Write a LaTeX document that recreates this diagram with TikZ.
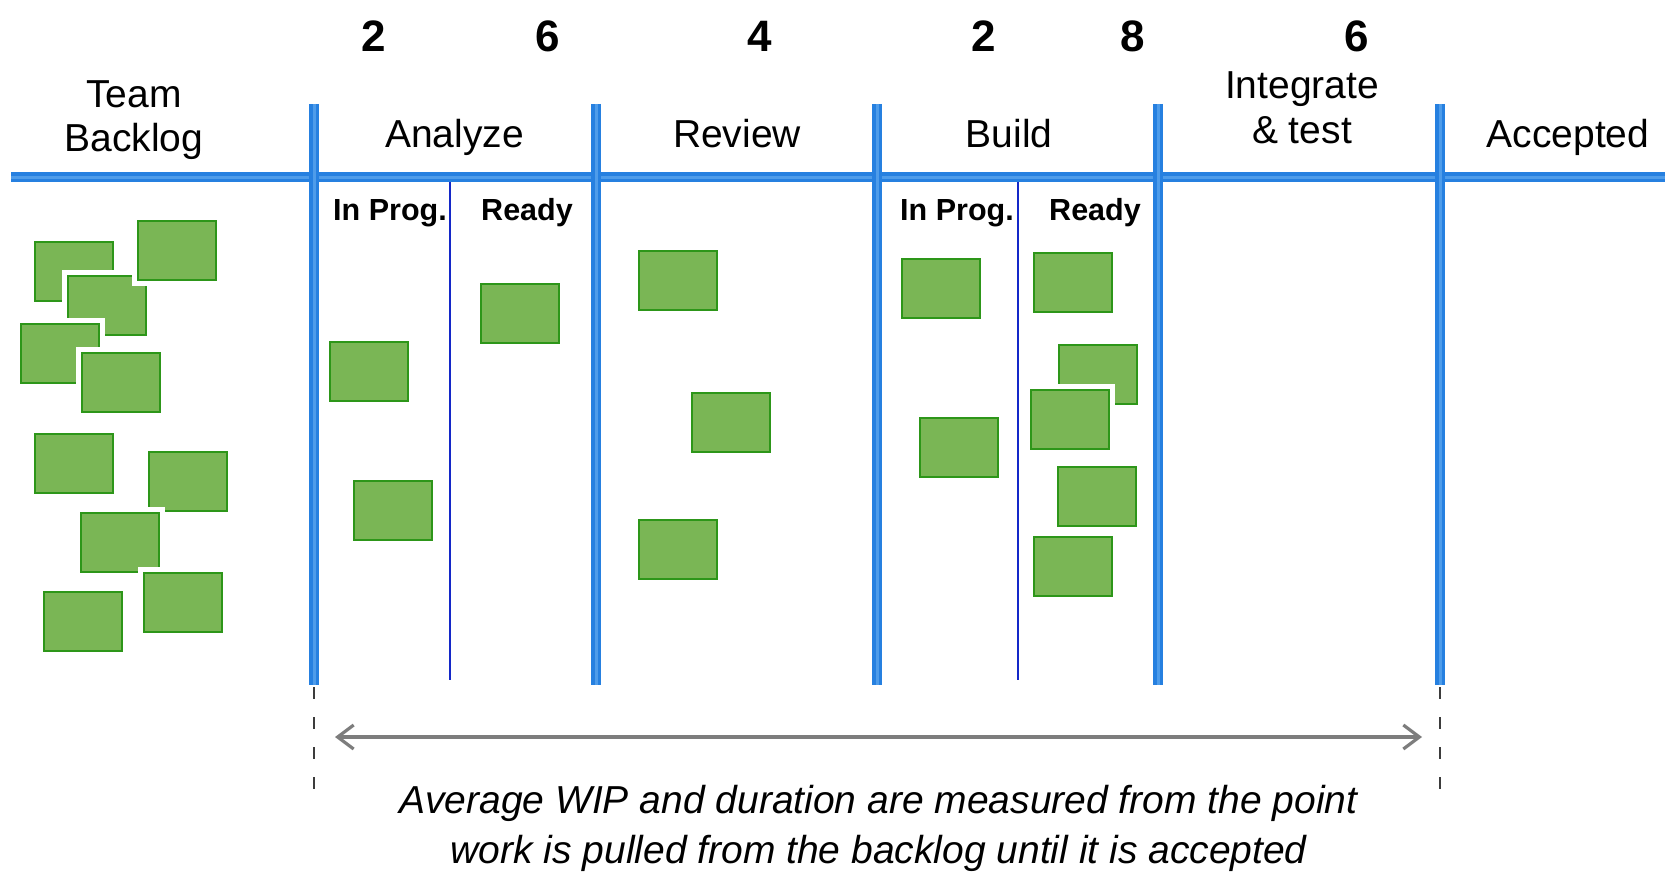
\documentclass[tikz,border=0pt]{standalone}
\usepackage{fontspec}
\setmainfont{Liberation Sans}
\usetikzlibrary{arrows.meta}

\definecolor{laneblue}{RGB}{38,128,224}
\definecolor{lanehi}{RGB}{78,156,234}
\definecolor{splitblue}{RGB}{20,40,200}
\definecolor{cardfill}{RGB}{122,182,85}
\definecolor{cardedge}{RGB}{45,150,25}
\definecolor{spangray}{RGB}{125,125,125}
\definecolor{guide}{RGB}{60,60,60}

\begin{document}
\begin{tikzpicture}[x=1pt,y=-1pt,
  lane/.style={draw=laneblue, line width=10pt,
    postaction={draw=lanehi, line width=3pt}},
  split/.style={draw=splitblue, line width=2.8pt},
  guideline/.style={draw=guide, line width=1.8pt, dash pattern=on 12pt off 18pt},
  card/.style={rectangle, fill=cardfill, draw=cardedge, line width=2.5pt,
    minimum width=78pt, minimum height=59pt, inner sep=0pt,
    preaction={draw=white, line width=12pt}},
  head/.style={font=\fontsize{39}{44}\selectfont, anchor=base, inner sep=0pt},
  wip/.style={font=\bfseries\fontsize{44}{48}\selectfont, anchor=base, inner sep=0pt},
  sub/.style={font=\bfseries\fontsize{30.5}{34}\selectfont, anchor=base, inner sep=0pt},
  note/.style={font=\itshape\fontsize{39}{50}\selectfont, anchor=base, inner sep=0pt},
  span/.style={draw=spangray, line width=3.2pt,
    {Straight Barb[length=16pt,width=24pt]}-{Straight Barb[length=16pt,width=24pt]}}
]
\useasboundingbox (0,0) rectangle (1665,872);

% board frame: header rule and column dividers
\coordinate (hl) at (11,177);
\coordinate (hr) at (1665,177);
\draw[lane] (hl) -- (hr);
\foreach \n/\x in {1/314,2/596,3/877,4/1158,5/1440}{
  \coordinate (d\n t) at (\x,104);
  \coordinate (d\n b) at (\x,685);
  \draw[lane] (d\n t) -- (d\n b);
}
% sub-column splits
\coordinate (sat) at (450,182); \coordinate (sab) at (450,680);
\coordinate (sbt) at (1018,182); \coordinate (sbb) at (1018,680);
\draw[split] (sat) -- (sab);
\draw[split] (sbt) -- (sbb);

% WIP limits
\node[wip] (w1) at (374,52) {2};
\node[wip] (w2) at (548,52) {6};
\node[wip] (w3) at (760,52) {4};
\node[wip] (w4) at (984,52) {2};
\node[wip] (w5) at (1133,52) {8};
\node[wip] (w6) at (1357,52) {6};

% column headings
\node[head] (tb1) at (134,108) {Team};
\node[head] (tb2) at (134,151) {Backlog};
\node[head] (an) at (454.5,148) {Analyze};
\node[head] (rv) at (737,148) {Review};
\node[head] (bd) at (1009,148) {Build};
\node[head] (it1) at (1302,99) {Integrate};
\node[head] (it2) at (1302,143) {\& test};
\node[head] (ac) at (1568,148) {Accepted};

\node[sub] (aip) at (390,220) {In Prog.};
\node[sub] (ard) at (527,220) {Ready};
\node[sub] (bip) at (957,220) {In Prog.};
\node[sub] (brd) at (1095,220) {Ready};

% backlog cards (later ones lie on top)
\node[card] (k1) at (74,271.5) {};
\node[card] (k2) at (107,305.5) {};
\node[card] (k3) at (177,250.5) {};
\node[card] (k4) at (60,353.5) {};
\node[card] (k5) at (121,382.5) {};
\node[card] (k6) at (74,463.5) {};
\node[card] (k7) at (188,481.5) {};
\node[card] (k8) at (120,542.5) {};
\node[card] (k9) at (183,602.5) {};
\node[card] (k10) at (83,621.5) {};

% analyze
\node[card] (a1) at (369,371.5) {};
\node[card] (a2) at (393,510.5) {};
\node[card] (a3) at (520,313.5) {};

% review
\node[card] (r1) at (678,280.5) {};
\node[card] (r2) at (731,422.5) {};
\node[card] (r3) at (678,549.5) {};

% build
\node[card] (b1) at (941,288.5) {};
\node[card] (b2) at (959,447.5) {};
\node[card] (b3) at (1073,282.5) {};
\node[card] (b4) at (1098,374.5) {};
\node[card] (b5) at (1070,419.5) {};
\node[card] (b6) at (1097,496.5) {};
\node[card] (b7) at (1073,566.5) {};

% measured span
\coordinate (gl1) at (314,687); \coordinate (gl2) at (314,792);
\coordinate (gr1) at (1440,687); \coordinate (gr2) at (1440,792);
\draw[guideline] (gl1) -- (gl2);
\draw[guideline] (gr1) -- (gr2);
\coordinate (sl) at (335,737);
\coordinate (sr) at (1422,737);
\draw[span] (sl) -- (sr);

\node[note] (n1) at (878.7,813) {Average WIP and duration are measured from the point};
\node[note] (n2) at (878.7,863) {work is pulled from the backlog until it is accepted};
\end{tikzpicture}
\end{document}
